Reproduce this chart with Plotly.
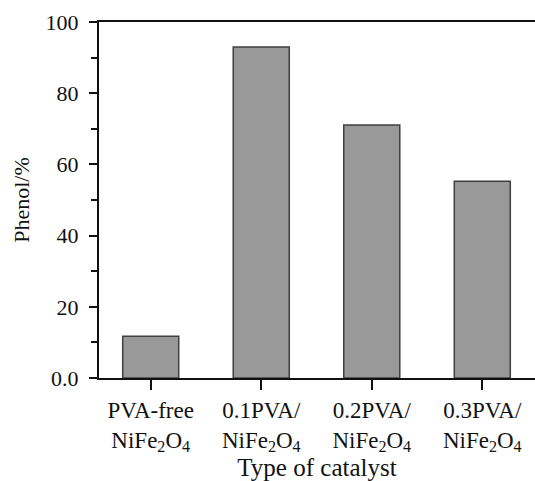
import plotly.graph_objects as go

categories = ["PVA-free<br>NiFe<sub>2</sub>O<sub>4</sub>",
              "0.1PVA/<br>NiFe<sub>2</sub>O<sub>4</sub>",
              "0.2PVA/<br>NiFe<sub>2</sub>O<sub>4</sub>",
              "0.3PVA/<br>NiFe<sub>2</sub>O<sub>4</sub>"]
phenol = [11.7, 93.0, 71.1, 55.3]
y_tickvals = [0, 20, 40, 60, 80, 100]
y_ticktext = ["0.0", "20", "40", "60", "80", "100"]

font_family = "Liberation Serif, Times New Roman, Times, serif"

fig = go.Figure(go.Bar(
    x=list(range(len(categories))),
    y=phenol,
    width=0.507,
    marker=dict(color="#999999", line=dict(color="#404040", width=1.5)),
))

fig.update_layout(
    width=535, height=481,
    margin=dict(l=99, r=0, t=22, b=103, autoexpand=False),
    plot_bgcolor="white", paper_bgcolor="white",
    font=dict(family=font_family, size=22, color="#111"),
    showlegend=False,
)
fig.update_xaxes(
    range=[-0.468, 3.477],
    tickvals=list(range(len(categories))),
    ticktext=categories,
    tickfont=dict(family=font_family, size=23),
    showline=True, linewidth=2, linecolor="#111", mirror=True,
    ticks="outside", ticklen=10, tickwidth=2, tickcolor="#111",
    showgrid=False, zeroline=False, automargin=False,
    title=dict(text="Type of catalyst", font=dict(family=font_family, size=25), standoff=6),
)
fig.update_yaxes(
    range=[0, 100],
    tickvals=y_tickvals, ticktext=y_ticktext,
    tickfont=dict(family=font_family, size=22),
    showline=True, linewidth=2, linecolor="#111", mirror=False,
    ticks="outside", ticklen=8, tickwidth=2, tickcolor="#111",
    minor=dict(ticks="outside", ticklen=6, tickwidth=2, tickcolor="#111", dtick=10, tick0=0),
    showgrid=False, zeroline=False, automargin=False,
    ticklabelstandoff=6,
    title=dict(text="Phenol/%", font=dict(family=font_family, size=22), standoff=10),
)

fig.write_html("out.html", config={"displayModeBar": False},
               post_script="document.body.style.margin='0';document.body.style.overflow='hidden';")
